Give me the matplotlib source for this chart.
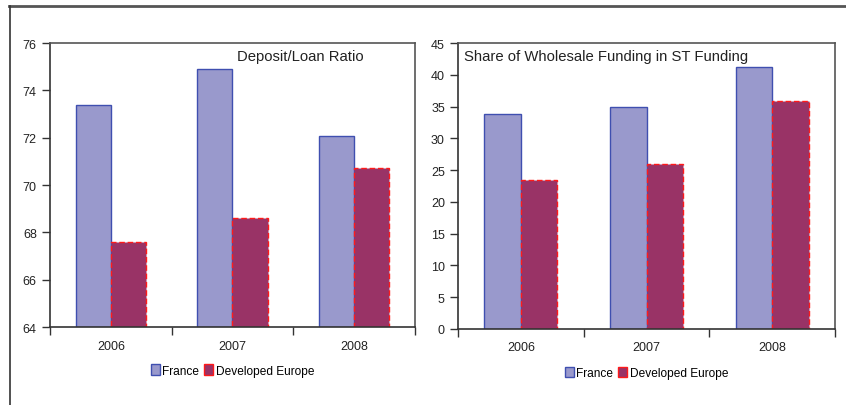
import matplotlib
matplotlib.use("Agg")
import matplotlib.pyplot as plt
from matplotlib.lines import Line2D
import numpy as np

plt.rcParams['font.family'] = ['Liberation Sans', 'DejaVu Sans']

years = ["2006", "2007", "2008"]
series = ["France", "Developed Europe"]
deposit_france = [73.4, 74.9, 72.05]
deposit_europe = [67.6, 68.6, 70.7]
wholesale_france = [33.8, 35.0, 41.2]
wholesale_europe = [23.4, 25.9, 35.9]

FR_FACE = "#9999CC"
FR_EDGE = "#3F4FB0"
EU_FACE = "#993366"
EU_EDGE = "#FF1A1A"

fig = plt.figure(figsize=(8.46, 4.06), dpi=100)

def panel(rect, fr, eu, ylim, yticks, title, tx, ty, ha):
    ax = fig.add_axes(rect)
    x = np.arange(len(years))
    w = 0.29
    ax.bar(x - w/2, [v - ylim[0] for v in fr], w, bottom=ylim[0],
           color=FR_FACE, edgecolor=FR_EDGE, linewidth=1.0, label=series[0])
    ax.bar(x + w/2, [v - ylim[0] for v in eu], w, bottom=ylim[0],
           color=EU_FACE, edgecolor=EU_EDGE, linewidth=1.0, linestyle=(0, (4, 2)),
           label=series[1])
    ax.set_xlim(-0.5, len(years) - 0.5)
    ax.set_ylim(*ylim)
    ax.set_yticks(yticks)
    ax.set_xticks(x)
    ax.set_xticklabels(years)
    ax.set_xticks(np.arange(-0.5, len(years)), minor=True)
    ax.tick_params(axis='x', which='major', length=0, pad=9, labelsize=9, colors="#222222")
    ax.tick_params(axis='x', which='minor', length=6, width=1.0, color="#333333")
    ax.tick_params(axis='y', length=6, width=1.0, labelsize=9, color="#333333", labelcolor="#222222")
    for s in ['left', 'bottom']:
        ax.spines[s].set_color("#333333")
        ax.spines[s].set_linewidth(1.2)
    for s in ['top', 'right']:
        ax.spines[s].set_color("#555555")
        ax.spines[s].set_linewidth(1.2)
    ax.text(tx, ty, title, transform=ax.transAxes, ha=ha, va='center',
            fontsize=10.7, color="#222222")
    leg = ax.legend(loc='upper center', bbox_to_anchor=(0.5, -0.115), ncol=2,
                    frameon=False, fontsize=8.6, handlelength=0.75, handleheight=0.95,
                    handletextpad=0.2, columnspacing=0.45, borderaxespad=0)
    for h in leg.legend_handles:
        h.set_linestyle('-')
    return ax

panel([0.0591, 0.1921, 0.4314, 0.6995], deposit_france, deposit_europe,
      (64, 76), np.arange(64, 77, 2), "Deposit/Loan Ratio", 0.512, 0.955, 'left')
panel([0.5414, 0.1872, 0.4456, 0.7044], wholesale_france, wholesale_europe,
      (0, 45), np.arange(0, 46, 5), "Share of Wholesale Funding in ST Funding", 0.016, 0.953, 'left')

# outer frame lines
fig.add_artist(Line2D([9/846, 1.0], [1 - 7/406, 1 - 7/406], transform=fig.transFigure,
                      color="#555555", linewidth=2))
fig.add_artist(Line2D([10/846, 10/846], [0, 1 - 7/406], transform=fig.transFigure,
                      color="#333333", linewidth=1.2))

fig.savefig("out.png", dpi=100)
